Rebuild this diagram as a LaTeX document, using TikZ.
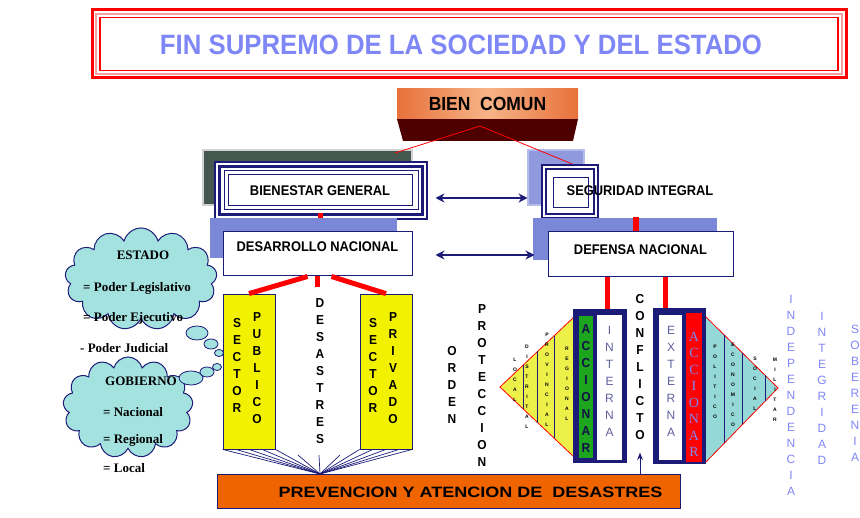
\documentclass[tikz,border=0pt]{standalone}
\usepackage{fontspec}
\setmainfont{Liberation Sans}
\newfontfamily\narrowsans[FakeStretch=0.92]{Liberation Sans}
\newfontfamily\widesans[FakeStretch=1.2]{Liberation Sans}
\newfontfamily\cloudfont{Liberation Serif}
\usetikzlibrary{arrows.meta,calc,positioning,shapes.symbols,shapes.geometric}
\tikzset{>=Stealth}

\definecolor{navy}{HTML}{1C1C78}
\definecolor{lilac}{HTML}{7B88D8}
\definecolor{titleblue}{HTML}{7F86F5}
\definecolor{cloudcyan}{HTML}{A4E2E0}
\definecolor{tricyan}{HTML}{94D9D7}
\definecolor{triyellow}{HTML}{EEF04A}
\definecolor{boxyellow}{HTML}{F2F200}
\definecolor{fireorange}{HTML}{F06400}
\definecolor{peach}{HTML}{F7B488}
\definecolor{rust}{HTML}{E8703A}
\definecolor{maroon}{HTML}{4E0000}
\definecolor{slate}{HTML}{44584F}
\definecolor{leaf}{HTML}{1EA51E}
\definecolor{palered}{HTML}{F7A0A0}

% letters of a word stacked one under the other
\makeatletter
\newcommand*{\vword}[1]{\vbox{\@tfor\vw@l:=#1\do{\hbox to 1em{\hss\vw@l\hss}}}}
\makeatother

\tikzset{
  mainlbl/.style={font=\narrowsans\fontsize{14}{16}\selectfont\bfseries},
  whitebox/.style={draw=navy, fill=white, line width=1pt, inner sep=0pt},
  vbold/.style={font=\narrowsans\fontsize{13}{17}\selectfont\bfseries, inner sep=0pt},
  vthin/.style={font=\fontsize{12}{17}\selectfont, text=navy!70, inner sep=0pt},
  vtiny/.style={font=\fontsize{5}{10}\selectfont\bfseries, inner sep=0pt},
  vblue/.style={font=\fontsize{12}{16}\selectfont, text=titleblue, inner sep=0pt},
  cloudtxt/.style={font=\cloudfont\fontsize{13}{15}\selectfont\bfseries, inner sep=0pt},
  cloudbox/.style={cloud, cloud puffs=13, aspect=1.5, draw=navy, fill=cloudcyan, line width=1pt},
  bubble/.style={ellipse, draw=navy, fill=cloudcyan, line width=.8pt, inner sep=0pt},
  redbar/.style={red, line width=5pt},
  dblarrow/.style={{Stealth[length=9pt,width=9pt]}-{Stealth[length=9pt,width=9pt]}, navy, line width=1.3pt},
  fan/.style={navy, line width=.7pt},
}

\begin{document}
\begin{tikzpicture}[x=1pt,y=-1pt]
\useasboundingbox (0,0) rectangle (860,518);

% Title
\draw[red, line width=3pt] (92,10) rectangle (846,78);
\draw[palered, line width=2pt] (96,14) rectangle (842,74);
\draw[red, line width=1.2pt, fill=white] (100,17.5) rectangle (838,70.5);
\node[font=\narrowsans\fontsize{28}{30}\selectfont\bfseries, text=titleblue] (title)
   at (461,45) {FIN SUPREMO DE LA SOCIEDAD Y DEL ESTADO};

% Bien comun
\fill[maroon] (397,119) -- (578,119) -- (573,141) -- (403,141) -- cycle;
\node[left color=rust, right color=rust, middle color=peach, minimum width=181,
   minimum height=30, inner sep=0pt, font=\narrowsans\fontsize{19}{21}\selectfont\bfseries]
   (bien) at (487.5,104) {BIEN\ \ COMUN};
\coordinate (bc) at (480,126);

% Shadows behind the two aims
\draw[gray!35, line width=1.5pt, fill=slate] (203,150) rectangle (412,205);
\draw[lilac!55, line width=1.5pt, fill=lilac!85] (528,150) rectangle (584,205);
\coordinate (bienshadow) at (395,153);
\coordinate (segcorner) at (577,166);
\draw[red, line width=.8pt] (bc) -- (bienshadow);
\draw[red, line width=.8pt] (bc) -- (segcorner);

% Bienestar general
\draw[navy, line width=2pt, fill=white] (215,162) rectangle (427,219);
\draw[navy, line width=3pt] (219.5,166.5) rectangle (422.5,214.5);
\draw[navy, line width=1pt] (224,171) rectangle (418,210);
\node[whitebox, mainlbl, minimum width=184, minimum height=31] (bienestar)
   at (320,190.5) {BIENESTAR GENERAL};
\fill[red] (318,213) rectangle (323,218);

% Seguridad integral
\draw[navy, line width=2pt, fill=white] (542,165) rectangle (598,218);
\draw[navy, line width=2.5pt] (546,169) rectangle (594,214);
\node[whitebox, minimum width=35, minimum height=30] (segbox) at (570.5,193) {};
\node[mainlbl] (seguridad) at (640,191) {SEGURIDAD INTEGRAL};

% Desarrollo nacional
\fill[lilac] (210,218) rectangle (397,258);
\node[whitebox, mainlbl, minimum width=189, minimum height=44, text height=10pt,
   text depth=14pt] (desarrollo) at (317.5,254) {DESARROLLO NACIONAL};

% Defensa nacional
\fill[lilac] (533,218) rectangle (717,260);
\fill[red] (633,217) rectangle (639,232);
\node[whitebox, mainlbl, minimum width=185, minimum height=45, text height=10pt,
   text depth=9pt] (defensa) at (640.5,254.5) {DEFENSA NACIONAL};

\draw[dblarrow] ([shift={(23,7.5)}]bienestar.east) -- ([shift={(-25,5)}]segbox.west);
\draw[dblarrow] ([shift={(23,1)}]desarrollo.east) -- ([shift={(-13,0.5)}]defensa.west);

% Sectors
\node[draw=navy, fill=boxyellow, line width=.8pt, minimum width=52, minimum height=155]
   (publico) at (249,371.5) {};
\node[draw=navy, fill=boxyellow, line width=.8pt, minimum width=52, minimum height=155]
   (privado) at (386,371.5) {};
\draw[redbar] ([xshift=-10pt]desarrollo.south) -- (publico.north);
\draw[redbar] (desarrollo.south) -- ++(0,11);
\draw[redbar] ([xshift=14pt]desarrollo.south) -- (privado.north);
\node[vbold] (pub-a) at (237,365) {\vword{SECTOR}};
\node[vbold] (pub-b) at (257,368.5) {\vword{PUBLICO}};
\node[vbold] (priv-a) at (373,365) {\vword{SECTOR}};
\node[vbold] (priv-b) at (393,368.5) {\vword{PRIVADO}};
\node[vbold] (desastres) at (320,371.5) {\vword{DESASTRES}};

% Fan under the sectors
\coordinate (fanpt) at (320,474);
\foreach \t in {0,.25,.5,.75,1} {
  \draw[fan] ($(publico.south west)!\t!(publico.south east)$) -- (fanpt);
  \draw[fan] ($(privado.south west)!\t!(privado.south east)$) -- (fanpt);
}
\foreach \x in {298,319,340}
  \draw[fan] (\x,455) -- (fanpt);

% Prevencion y atencion
\node[draw=navy, fill=fireorange, line width=1pt, minimum width=463, minimum height=34]
   (prevencion) at (448.5,492) {};
\node[font=\widesans\fontsize{15}{17}\selectfont\bfseries] (prevlbl)
   at ([xshift=22pt]prevencion.center) {PREVENCION Y ATENCION DE\ \ DESASTRES};

% Orden y proteccion
\node[vbold] (orden) at (452,385) {\vword{ORDEN}};
\node[vbold] (proteccion) at (482,385.5) {\vword{PROTECCION}};

% Left triangle
\coordinate (la) at (500,387);
\coordinate (lt) at (574,317);
\coordinate (lb) at (574,457);
\draw[red, fill=triyellow, line width=.8pt] (la) -- (lt) -- (lb) -- cycle;
\foreach \t in {.31,.51,.73}
  \draw[navy, line width=.8pt] ($(la)!\t!(lt)$) -- ($(la)!\t!(lb)$);
\node[vtiny] (local) at (515,380) {\vword{LOCAL}};
\node[vtiny] (distrital) at (527,387) {\vword{DISTRITAL}};
\node[vtiny] (provincial) at (547,380) {\vword{PROVINCIAL}};
\node[vtiny] (regional) at (567,384) {\vword{REGIONAL}};

% Interna
\fill[navy] (573,309) rectangle (627,463);
\fill[leaf] (579,316) rectangle (593,458);
\fill[white] (597,315) rectangle (622,460);
\node[vbold, text=navy!60!black] (acc-in) at (586,389) {\vword{ACCIONAR}};
\node[vthin] (interna) at (609.5,381.5) {\vword{INTERNA}};
\draw[redbar] ([xshift=-33.5pt]defensa.south) -- ++(0,32);
\draw[redbar] ([xshift=24.5pt]defensa.south) -- ++(0,31);

% Conflicto
\node[vbold] (conflicto) at (640,367.5) {\vword{CONFLICTO}};
\draw[->, navy, line width=1pt] (prevencion.north -| conflicto) -- ++(0,-22);

% Externa
\fill[navy] (653,308) rectangle (706,464);
\fill[white] (659,315) rectangle (682,460);
\fill[red] (686,313) rectangle (702,462);
\node[vthin] (externa) at (671,381.5) {\vword{EXTERNA}};
\node[font=\cloudfont\fontsize{14}{16.5}\selectfont, text=titleblue, inner sep=0pt]
   (acc-ex) at (694,394.5) {\vword{ACCIONAR}};

% Right triangle
\coordinate (ra) at (778,388);
\coordinate (rt) at (706,317);
\coordinate (rb) at (706,462);
\fill[tricyan] (rt) -- (ra) -- (rb) -- cycle;
\draw[red, line width=.8pt] (rt) -- (ra) -- (rb);
\foreach \t in {.26,.51,.82}
  \draw[navy, line width=.8pt] ($(rt)!\t!(ra)$) -- ($(rb)!\t!(ra)$);
\node[vtiny] (politico) at (715,382) {\vword{POLITICO}};
\node[vtiny] (economico) at (733,385) {\vword{ECONOMICO}};
\node[vtiny] (social) at (755,384) {\vword{SOCIAL}};
\node[vtiny] (militar) at (775,390) {\vword{MILITAR}};

% Aims of defence
\node[vblue] (independencia) at (791,395) {\vword{INDEPENDENCIA}};
\node[vblue] (integridad) at (822,388.5) {\vword{INTEGRIDAD}};
\node[vblue] (soberenia) at (855,393) {\vword{SOBERENIA}};

% Clouds
\node[cloudbox, minimum width=152, minimum height=102] (estado) at (141,279) {};
\node[bubble, minimum width=22, minimum height=14] (eb1) at (197,333) {};
\node[bubble, minimum width=14, minimum height=10] (eb2) at (211,344) {};
\node[bubble, minimum width=9, minimum height=7] (eb3) at (219,353) {};
\node[cloudbox, minimum width=130, minimum height=101] (gobierno) at (128,407.5) {};
\node[bubble, minimum width=24, minimum height=14] (gb1) at (191,378) {};
\node[bubble, minimum width=14, minimum height=10] (gb2) at (207,372) {};
\node[bubble, minimum width=9, minimum height=7] (gb3) at (217,367) {};

\node[cloudtxt] (estado-t) at (143,255) {ESTADO};
\node[cloudtxt, anchor=west] (legis) at (83,288) {= Poder Legislativo};
\node[cloudtxt, anchor=west] (ejec) at (83,318) {= Poder Ejecutivo};
\node[cloudtxt, anchor=west] (judi) at (80,348) {- Poder Judicial};
\node[cloudtxt] (gob-t) at (141,381) {GOBIERNO};
\node[cloudtxt, anchor=west] (nac) at (103,412) {= Nacional};
\node[cloudtxt, anchor=west] (reg) at (103,440) {= Regional};
\node[cloudtxt, anchor=west] (loc) at (103,468) {= Local};
\end{tikzpicture}
\end{document}
